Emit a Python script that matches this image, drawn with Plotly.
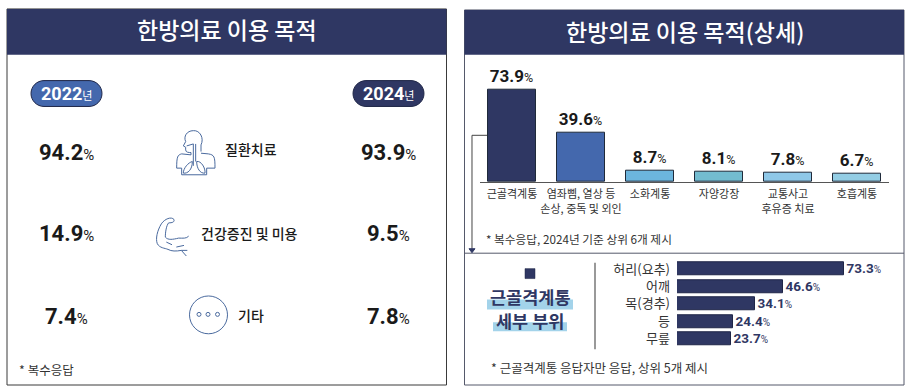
import plotly.graph_objects as go

W, H = 908, 387
NAVY = "#2f3763"
INK = "#1a1a1a"
FONT = "Roboto, 'Noto Sans CJK KR', sans-serif"
KR = "'Noto Sans CJK KR', sans-serif"

purposes = ["질환치료", "건강증진 및 미용", "기타"]
share_2022 = [94.2, 14.9, 7.4]
share_2024 = [93.9, 9.5, 7.8]

detail_categories = ["근골격계통", "염좌삠, 열상 등<br>손상, 중독 및 외인", "소화계통", "자양강장", "교통사고<br>후유증 치료", "호흡계통"]
detail_values = [73.9, 39.6, 8.7, 8.1, 7.8, 6.7]
detail_colors = ["#2f3763", "#4468ad", "#6cb5dd", "#73bcd0", "#8fc8e8", "#93cde4"]

body_parts = ["허리(요추)", "어깨", "목(경추)", "등", "무릎"]
body_values = [73.3, 46.6, 34.1, 24.4, 23.7]


def px(x):
    return x / W


def py(y):
    return 1 - y / H


def path(d, ox=0.0, oy=0.0, s=1.0):
    out, is_x = [], True
    for tok in d.split():
        if tok.isalpha():
            out.append(tok)
            is_x = True
        else:
            v = float(tok)
            out.append(f"{px(ox + v * s):.5f}" if is_x else f"{py(oy + v * s):.5f}")
            is_x = not is_x
    return " ".join(out)


shapes, annotations = [], []


def rect(x0, y0, x1, y1, fill="rgba(0,0,0,0)", line=None, lw=1):
    shapes.append(dict(type="rect", xref="paper", yref="paper", x0=px(x0), x1=px(x1), y0=py(y0), y1=py(y1),
                       fillcolor=fill, line=dict(color=line or "rgba(0,0,0,0)", width=lw if line else 0), layer="below"))


def seg(d, color="#4a6a9e", lw=1, fill="rgba(0,0,0,0)", ox=0.0, oy=0.0, s=1.0):
    shapes.append(dict(type="path", xref="paper", yref="paper", path=path(d, ox, oy, s), line=dict(color=color, width=lw), fillcolor=fill, layer="below"))


def circle(cx, cy, r, color="#4a6a9e", lw=1):
    shapes.append(dict(type="circle", xref="paper", yref="paper", x0=px(cx - r), x1=px(cx + r), y0=py(cy + r), y1=py(cy - r),
                       line=dict(color=color, width=lw), layer="below"))


def label(x, y, text, size=13, color=INK, anchor="center", family=KR, weight=None):
    f = dict(size=size, color=color, family=family)
    if weight:
        f["weight"] = weight
    annotations.append(dict(xref="paper", yref="paper", x=px(x), y=py(y), text=text, showarrow=False, xanchor=anchor, yanchor="middle", font=f))


def pct(v, big, small):
    return f"<span style='font-size:{big}px'><b>{v}</b></span><span style='font-size:{small}px'>%</span>"


def pill(x0, x1, y0, y1, fill):
    r = (y1 - y0) / 2
    k = r * 0.55
    seg(f"M {x0+r} {y0} L {x1-r} {y0} C {x1-r+k} {y0} {x1} {y0+r-k} {x1} {y0+r} C {x1} {y0+r+k} {x1-r+k} {y1} {x1-r} {y1} "
        f"L {x0+r} {y1} C {x0+r-k} {y1} {x0} {y0+r+k} {x0} {y0+r} C {x0} {y0+r-k} {x0+r-k} {y0} {x0+r} {y0} Z", "#1f2647", 1, fill)


# panels
rect(7, 7, 446.5, 385, "white", "#3a3a3a", 1)
rect(7, 7, 446.5, 53, NAVY)
rect(464.5, 8, 904, 385, "white", "#55596b", 1)
rect(464.5, 8, 904, 53, NAVY)
shapes.append(dict(type="line", xref="paper", yref="paper", x0=px(464.5), x1=px(904), y0=py(252.5), y1=py(252.5), line=dict(color="#55596b", width=1), layer="below"))
label(227, 27, "한방의료 이용 목적", 23, "white", weight=500)
label(685, 29, "한방의료 이용 목적(상세)", 23, "white", weight=500)

# year pills
pill(31, 102, 79, 105, "#4468ad")
pill(353, 424, 79, 105, NAVY)
label(66.5, 92, "<span style='font-size:18px'><b>2022</b></span><span style='font-size:11px'>년</span>", 15, "white", family=FONT)
label(388.5, 92, "<span style='font-size:18px'><b>2024</b></span><span style='font-size:11px'>년</span>", 15, "white", family=FONT)

rows = [151, 233, 316]
label_y = [148, 232, 314.5]
label_x = [251, 250, 251]
for i, y in enumerate(rows):
    label(66, y, pct(share_2022[i], 22, 15), family=FONT)
    label(388, y, pct(share_2024[i], 22, 15), family=FONT)
    label(label_x[i], label_y[i], purposes[i], 14, INK, weight=500)

# lungs icon
LX, LY, LS = 165, 122, 1 / 3
seg("M 108 85 L 108 65 C 118 45 105 20 85 22 C 65 22 55 40 62 55 L 55 68 L 62 72 L 62 80 C 62 88 72 88 78 88 L 78 95 L 50 92 C 38 95 35 100 35 135 L 50 135 L 50 155 "
    "L 125 155 L 125 135 L 150 135 C 150 100 148 95 130 92 L 108 90", ox=LX, oy=LY, s=LS)
seg("M 65 68 L 85 62 L 85 128 M 92 62 L 92 115", ox=LX, oy=LY, s=LS)
seg("M 82 115 C 70 118 55 135 55 150 C 68 152 82 140 82 115 M 95 115 C 108 112 122 135 120 150 C 105 152 95 135 95 115", ox=LX, oy=LY, s=LS)

# muscle icon
MX, MY, MS = 148, 208, 1 / 3
seg("M 78 32 C 70 22 50 30 40 45 C 28 65 22 90 28 105 C 35 118 50 118 60 122 C 70 128 85 128 100 125 L 115 142 "
    "M 78 32 C 80 40 72 42 62 42 C 55 50 52 70 52 85 C 60 95 75 92 92 88 C 105 88 115 90 122 82 "
    "M 55 100 L 72 108 M 85 115 L 108 110 M 100 125 L 118 125", ox=MX, oy=MY, s=MS)

# dots icon
circle(208.5, 314.5, 19)
for cx in (199, 208, 217.5):
    circle(cx, 314, 2)

label(17, 369, "* 복수응답", 12.5, "#333333", "left")

# right panel notes, arrow
seg("M 488 134 L 472 134 L 472 248", "#444444", 1)
seg("M 469 248 L 475 248 L 472 252 Z", NAVY, 1, NAVY)
label(484, 238, "* 복수응답, 2024년 기준 상위 6개 제시", 11.7, "#333333", "left")
rect(525, 268, 535, 278, NAVY, "#1f2647", 0.5)
rect(487, 299, 573, 309, "#a3d3ea")
rect(493, 322, 567, 331, "#a3d3ea")
label(530, 296, "<b>근골격계통</b>", 17.5, NAVY)
label(530, 320, "<b>세부 부위</b>", 17.5, NAVY)
shapes.append(dict(type="line", xref="paper", yref="paper", x0=px(595), x1=px(595), y0=py(262), y1=py(349), line=dict(color="#777777", width=1.5), layer="below"))
label(489, 367, "* 근골격계통 응답자만 응답, 상위 5개 제시", 12.5, "#333333", "left")

fig = go.Figure()

fig.add_trace(go.Bar(
    x=detail_categories, y=detail_values, width=0.69, xaxis="x", yaxis="y",
    marker=dict(color=detail_colors, line=dict(color="#1f2a3a", width=1)),
    text=[pct(v, 17, 12.5) for v in detail_values], textposition="outside", cliponaxis=False, constraintext="none",
    textfont=dict(family=FONT, color=INK), hoverinfo="skip", showlegend=False))

fig.add_trace(go.Bar(
    y=body_parts, x=body_values, orientation="h", width=0.74, xaxis="x2", yaxis="y2",
    marker=dict(color=NAVY, line=dict(color="#1f2647", width=1)),
    text=[pct(v, 13.5, 10) for v in body_values], textposition="outside", cliponaxis=False, constraintext="none",
    textfont=dict(family=FONT, color=NAVY), hoverinfo="skip", showlegend=False))

fig.update_layout(
    width=W, height=H, margin=dict(l=0, r=0, t=0, b=0), autosize=False,
    paper_bgcolor="white", plot_bgcolor="rgba(0,0,0,0)", shapes=shapes, annotations=annotations,
    font=dict(family=KR), bargap=0,
    xaxis=dict(domain=[px(480), px(889)], range=[-0.464, 5.464], showline=True, linecolor="#555555", linewidth=1,
               showgrid=False, ticks="", tickangle=0, tickfont=dict(size=11, color="#333333", family=KR), anchor="y", fixedrange=True,
               ticklabelstandoff=2),
    yaxis=dict(domain=[py(181), py(60)], range=[0, 96.2], visible=False, anchor="x", fixedrange=True),
    xaxis2=dict(domain=[px(677), px(900)], range=[0, 98], visible=False, anchor="y2", fixedrange=True),
    yaxis2=dict(domain=[py(347.4), py(259.6)], range=[4.5, -0.5], showline=False, showgrid=False, ticks="", dtick=1,
                tickmode="array", tickvals=body_parts, ticktext=body_parts,
                tickfont=dict(size=13, color="#333333", family=KR), anchor="x2", fixedrange=True, ticklabelstandoff=6),
)

fig.write_html("out.html", config=dict(displayModeBar=False),
               post_script="document.body.style.margin='0';document.body.style.overflow='hidden';")
